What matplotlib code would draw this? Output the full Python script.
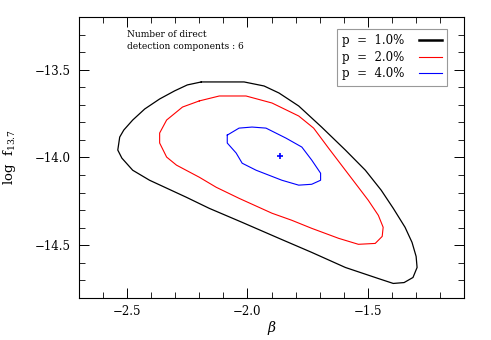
import matplotlib
matplotlib.use("Agg")
import matplotlib.pyplot as plt
from matplotlib.ticker import MultipleLocator

plt.rcParams['font.family'] = ['DejaVu Serif']
plt.rcParams['mathtext.fontset'] = 'dejavuserif'

# contour levels (beta, log f_13.7)
beta_p1 = [-2.192, -2.097, -2.014, -1.931, -1.869, -1.787, -1.692, -1.593, -1.510,
           -1.444, -1.394, -1.345, -1.316, -1.299, -1.295, -1.312, -1.349, -1.394,
           -1.456, -1.593, -1.733, -1.869, -2.022, -2.159, -2.254, -2.336, -2.407,
           -2.477, -2.522, -2.539, -2.531, -2.514, -2.477, -2.427, -2.365, -2.303,
           -2.250, -2.192]
logf_p1 = [-13.570, -13.570, -13.570, -13.593, -13.633, -13.707, -13.827, -13.958, -14.073,
           -14.187, -14.290, -14.398, -14.484, -14.564, -14.627, -14.684, -14.713, -14.718,
           -14.690, -14.627, -14.541, -14.461, -14.370, -14.290, -14.227, -14.175, -14.130,
           -14.073, -14.004, -13.958, -13.884, -13.844, -13.787, -13.724, -13.667, -13.621,
           -13.587, -13.570]

beta_p2 = [-2.200, -2.117, -2.006, -1.898, -1.787, -1.725, -1.663, -1.593, -1.539,
           -1.498, -1.456, -1.436, -1.440, -1.469, -1.539, -1.621, -1.733, -1.816,
           -1.898, -2.035, -2.130, -2.200, -2.295, -2.336, -2.365, -2.365, -2.336,
           -2.270, -2.200]
logf_p2 = [-13.678, -13.650, -13.650, -13.690, -13.764, -13.833, -13.947, -14.073, -14.170,
           -14.244, -14.330, -14.398, -14.450, -14.490, -14.495, -14.461, -14.404, -14.358,
           -14.318, -14.233, -14.170, -14.113, -14.044, -13.998, -13.918, -13.861, -13.787,
           -13.713, -13.678]

beta_p4 = [-2.084, -2.035, -1.981, -1.923, -1.840, -1.774, -1.733, -1.696, -1.696,
           -1.733, -1.787, -1.857, -1.964, -2.022, -2.047, -2.084, -2.084]
logf_p4 = [-13.873, -13.833, -13.827, -13.833, -13.890, -13.941, -14.015, -14.090, -14.130,
           -14.153, -14.158, -14.130, -14.073, -14.033, -13.975, -13.918, -13.873]

best_beta = -1.865
best_logf = -13.993

fig = plt.figure(figsize=(4.91, 3.40), dpi=100)
ax = fig.add_axes([0.161, 0.124, 0.784, 0.826])

ax.plot(beta_p1, logf_p1, color="black", lw=0.9, label="p  =  1.0%")
ax.plot(beta_p2, logf_p2, color="red", lw=0.8, label="p  =  2.0%")
ax.plot(beta_p4, logf_p4, color="blue", lw=0.8, label="p  =  4.0%")
ax.plot([best_beta], [best_logf], "+", color="blue", ms=5, mew=1.2)

ax.set_xlim(-2.7, -1.1)
ax.set_ylim(-14.8, -13.2)
ax.xaxis.set_major_locator(MultipleLocator(0.5))
ax.xaxis.set_minor_locator(MultipleLocator(0.1))
ax.yaxis.set_major_locator(MultipleLocator(0.5))
ax.yaxis.set_minor_locator(MultipleLocator(0.1))
ax.tick_params(which="both", direction="in", top=True, right=True, labelsize=8.5)
ax.tick_params(which="major", length=7, width=0.7)
ax.tick_params(axis="y", which="major", pad=6)
ax.tick_params(axis="x", which="major", pad=5)
ax.tick_params(which="minor", length=4, width=0.6)
for s in ax.spines.values():
    s.set_linewidth(0.8)

ax.set_xlabel(r"$\beta$", fontsize=10, labelpad=1)
ax.set_ylabel(r"log  f$_{13.7}$", fontsize=9.5, labelpad=12)

ax.text(0.125, 0.952, "Number of direct\ndetection components : 6",
        transform=ax.transAxes, fontsize=6.5, va="top", ha="left", linespacing=1.3)

leg = ax.legend(loc="upper right", bbox_to_anchor=(0.956, 0.957), borderaxespad=0,
                markerfirst=False, fancybox=False, fontsize=8.5, handlelength=1.95,
                handletextpad=1.2, labelspacing=0.3, borderpad=0.45)
leg.get_frame().set_edgecolor("gray")
leg.get_frame().set_linewidth(0.8)
leg.get_lines()[0].set_linewidth(1.8)

fig.savefig("out.png", dpi=100)
